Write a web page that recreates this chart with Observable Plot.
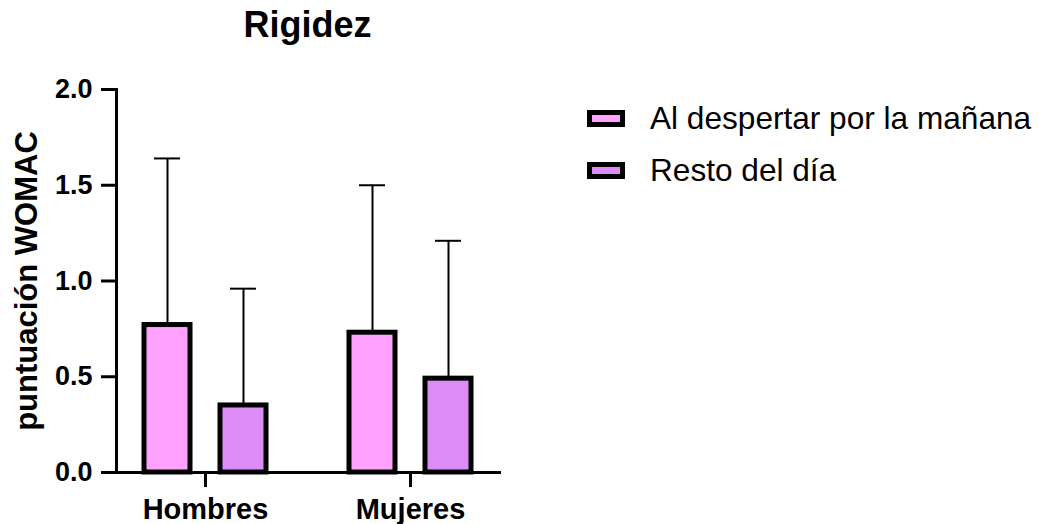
<!DOCTYPE html>
<html><head><meta charset="utf-8">
<script src="https://cdn.jsdelivr.net/npm/d3@7"></script>
<script src="https://cdn.jsdelivr.net/npm/@observablehq/plot@0.6"></script>
<style>
body{margin:0;background:#fff;font-family:"Liberation Sans",Arial,sans-serif;color:#000;}
#wrap{position:relative;width:1039px;height:524px;overflow:hidden;}
#chart{position:absolute;left:0;top:0;}
#title{position:absolute;left:0;top:7px;width:615px;text-align:center;font-size:36px;font-weight:bold;line-height:1;}
#legend{position:absolute;left:587px;top:92px;font-size:31.6px;}
.row{display:flex;align-items:center;height:52px;white-space:nowrap;}
.sw{box-sizing:content-box;width:28px;height:7px;border:5px solid #000;margin-right:25px;}
</style></head><body>
<div id="wrap"><div id="chart"></div><div id="title">Rigidez</div><div id="legend"></div></div>
<script>
const groups = ["Hombres", "Mujeres"];
const series = ["Al despertar por la mañana", "Resto del día"];
const colors = ["#FFA1FF", "#DC8CF6"];
const meanMorning = [0.77, 0.73];
const meanRest = [0.35, 0.49];
const sdMorning = [0.87, 0.77];
const sdRest = [0.61, 0.72];
const yTicks = [0, 0.5, 1.0, 1.5, 2.0];
const yLabel = "puntuación WOMAC";
const titleText = "Rigidez";

const rows = [];
groups.forEach((g, i) => {
  rows.push({group: g, series: series[0], mean: meanMorning[i], top: meanMorning[i] + sdMorning[i]});
  rows.push({group: g, series: series[1], mean: meanRest[i], top: meanRest[i] + sdRest[i]});
});

const font = "Liberation Sans, Arial, sans-serif";
const chart = Plot.plot({
  width: 1039, height: 524,
  marginTop: 89, marginBottom: 52, marginLeft: 116, marginRight: 539,
  style: {fontFamily: font, color: "#000", background: "transparent"},
  fx: {domain: groups, paddingInner: 0.1305, paddingOuter: 0, label: null},
  x: {domain: series, paddingInner: 0.4, paddingOuter: 0.3643, axis: null},
  y: {domain: [0, 2], axis: null},
  color: {domain: series, range: colors},
  marks: [
    Plot.ruleX(rows, {fx: "group", x: "series", y1: "mean", y2: "top", stroke: "#000", strokeWidth: 2}),
    Plot.tickY(rows, {fx: "group", x: "series", y: "top", stroke: "#000", strokeWidth: 2, insetLeft: 10, insetRight: 10}),
    Plot.barY(rows, {fx: "group", x: "series", y: "mean", fill: "series", stroke: "#000", strokeWidth: 5}),
    Plot.frame({anchor: "left", facet: "super", stroke: "#000", strokeWidth: 3}),
    Plot.frame({anchor: "bottom", facet: "super", stroke: "#000", strokeWidth: 3}),
    Plot.axisY({ticks: yTicks, tickFormat: d3.format(".1f"), tickSize: 15, tickPadding: 9, stroke: "#000", strokeWidth: 3, fontSize: 27, fontWeight: "bold", label: null}),
    Plot.axisFx({anchor: "bottom", tickSize: 15, tickPadding: 11, stroke: "#000", strokeWidth: 3, fontSize: 29, fontWeight: "bold", label: null}),
    Plot.text([yLabel], {facet: "super", frameAnchor: "left", textAnchor: "middle", rotate: -90, dx: -89, fontSize: 31, fontWeight: "bold", fill: "#000"})
  ]
});
document.getElementById("chart").appendChild(chart);
document.getElementById("title").textContent = titleText;

const legend = document.getElementById("legend");
series.forEach((s, i) => {
  const row = document.createElement("div");
  row.className = "row";
  const sw = document.createElement("span");
  sw.className = "sw";
  sw.style.background = colors[i];
  const t = document.createElement("span");
  t.textContent = s;
  row.appendChild(sw); row.appendChild(t);
  legend.appendChild(row);
});
</script>
</body></html>
